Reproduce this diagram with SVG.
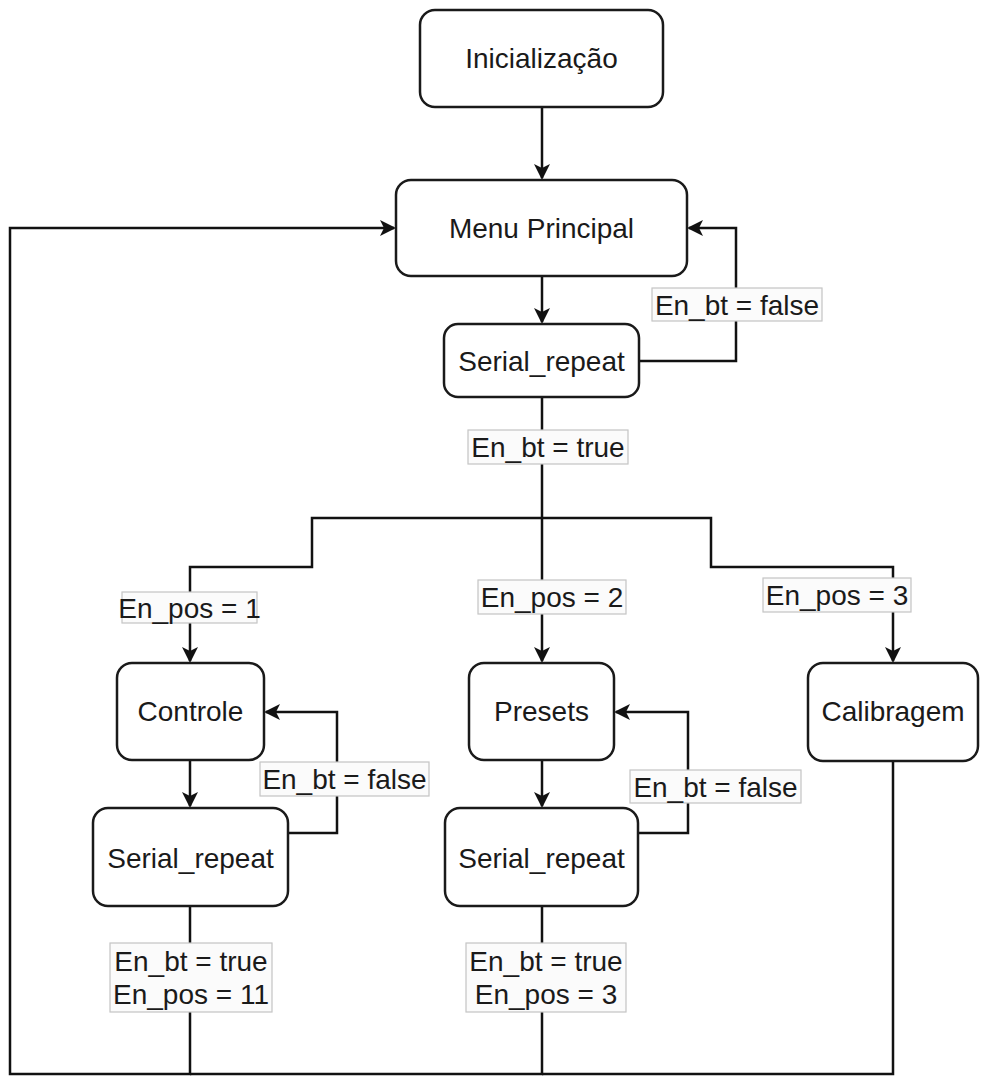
<svg xmlns="http://www.w3.org/2000/svg" width="985" height="1079" viewBox="0 0 985 1079">
<style>
.node rect{fill:#ffffff;stroke:#1a1a1a;stroke-width:2.5}
.node text{font-family:"Liberation Sans",Arial,sans-serif;font-size:28px;fill:#1a1a1a;text-anchor:middle}
.edge{fill:none;stroke:#111;stroke-width:2.5}
.lbl rect{fill:#fbfbfb;stroke:#c4c4c4;stroke-width:1.2}
.lbl text{font-family:"Liberation Sans",Arial,sans-serif;font-size:28px;fill:#1a1a1a;text-anchor:middle}
</style>
<defs>
<marker id="arr" viewBox="-16 -9 20 18" markerWidth="20" markerHeight="18" refX="0" refY="0" orient="auto" markerUnits="userSpaceOnUse">
<path d="M2,0 L-14,-8 L-10,0 L-14,8 Z" fill="#111"/>
</marker>
</defs>
<rect width="985" height="1079" fill="#ffffff"/>
<g id="connectors">
<path class="edge" d="M542,107 V178" marker-end="url(#arr)"/>
<path class="edge" d="M542,276 V322" marker-end="url(#arr)"/>
<path class="edge" d="M639,361 H736 V228 H689" marker-end="url(#arr)"/>
<path class="edge" d="M542,397 V661" marker-end="url(#arr)"/>
<path class="edge" d="M542,518 H312 V567 H190 V661" marker-end="url(#arr)"/>
<path class="edge" d="M542,518 H711 V567 H893 V661" marker-end="url(#arr)"/>
<path class="edge" d="M190,760 V806" marker-end="url(#arr)"/>
<path class="edge" d="M288,833 H337 V712 H266" marker-end="url(#arr)"/>
<path class="edge" d="M542,760 V806" marker-end="url(#arr)"/>
<path class="edge" d="M638,833 H688 V712 H616" marker-end="url(#arr)"/>
<path class="edge" d="M190,906 V1074 H10 V228 H394" marker-end="url(#arr)"/>
<path class="edge" d="M542,906 V1074 H190"/>
<path class="edge" d="M893,760 V1074 H542"/>
</g>
<g id="labels">
<g class="lbl"><rect x="652" y="288" width="170" height="33"/><text x="737" y="314.5">En_bt = false</text></g>
<g class="lbl"><rect x="468" y="430" width="160" height="34"/><text x="548" y="457">En_bt = true</text></g>
<g class="lbl"><rect x="122" y="592" width="135" height="31"/><text x="189.5" y="617.5">En_pos = 1</text></g>
<g class="lbl"><rect x="478" y="580" width="148" height="34"/><text x="552" y="607">En_pos = 2</text></g>
<g class="lbl"><rect x="763" y="578" width="148" height="34"/><text x="837" y="605">En_pos = 3</text></g>
<g class="lbl"><rect x="260" y="762" width="169" height="34"/><text x="344.5" y="789">En_bt = false</text></g>
<g class="lbl"><rect x="630" y="770" width="171" height="33"/><text x="715.5" y="796.5">En_bt = false</text></g>
<g class="lbl"><rect x="110" y="943" width="162" height="69"/><text x="191" y="971">En_bt = true</text><text x="191" y="1004">En_pos = 11</text></g>
<g class="lbl"><rect x="466" y="943" width="160" height="69"/><text x="546" y="971">En_bt = true</text><text x="546" y="1004">En_pos = 3</text></g>
</g>
<g id="inicializacao" class="node"><rect x="420" y="10" width="243" height="97" rx="15"/><text x="541.5" y="68">Inicialização</text></g>
<g id="menu-principal" class="node"><rect x="396" y="180" width="291" height="96" rx="15"/><text x="541.5" y="238">Menu Principal</text></g>
<g id="serial-repeat-top" class="node"><rect x="444" y="324" width="195" height="73" rx="14"/><text x="541.5" y="370.5">Serial_repeat</text></g>
<g id="controle" class="node"><rect x="117" y="663" width="147" height="97" rx="15"/><text x="190.5" y="721">Controle</text></g>
<g id="presets" class="node"><rect x="469" y="663" width="145" height="97" rx="15"/><text x="541.5" y="721">Presets</text></g>
<g id="calibragem" class="node"><rect x="808" y="663" width="170" height="98" rx="15"/><text x="893" y="721">Calibragem</text></g>
<g id="serial-repeat-left" class="node"><rect x="93" y="808" width="195" height="98" rx="15"/><text x="190.5" y="868">Serial_repeat</text></g>
<g id="serial-repeat-mid" class="node"><rect x="445" y="808" width="193" height="98" rx="15"/><text x="541.5" y="868">Serial_repeat</text></g>
</svg>
